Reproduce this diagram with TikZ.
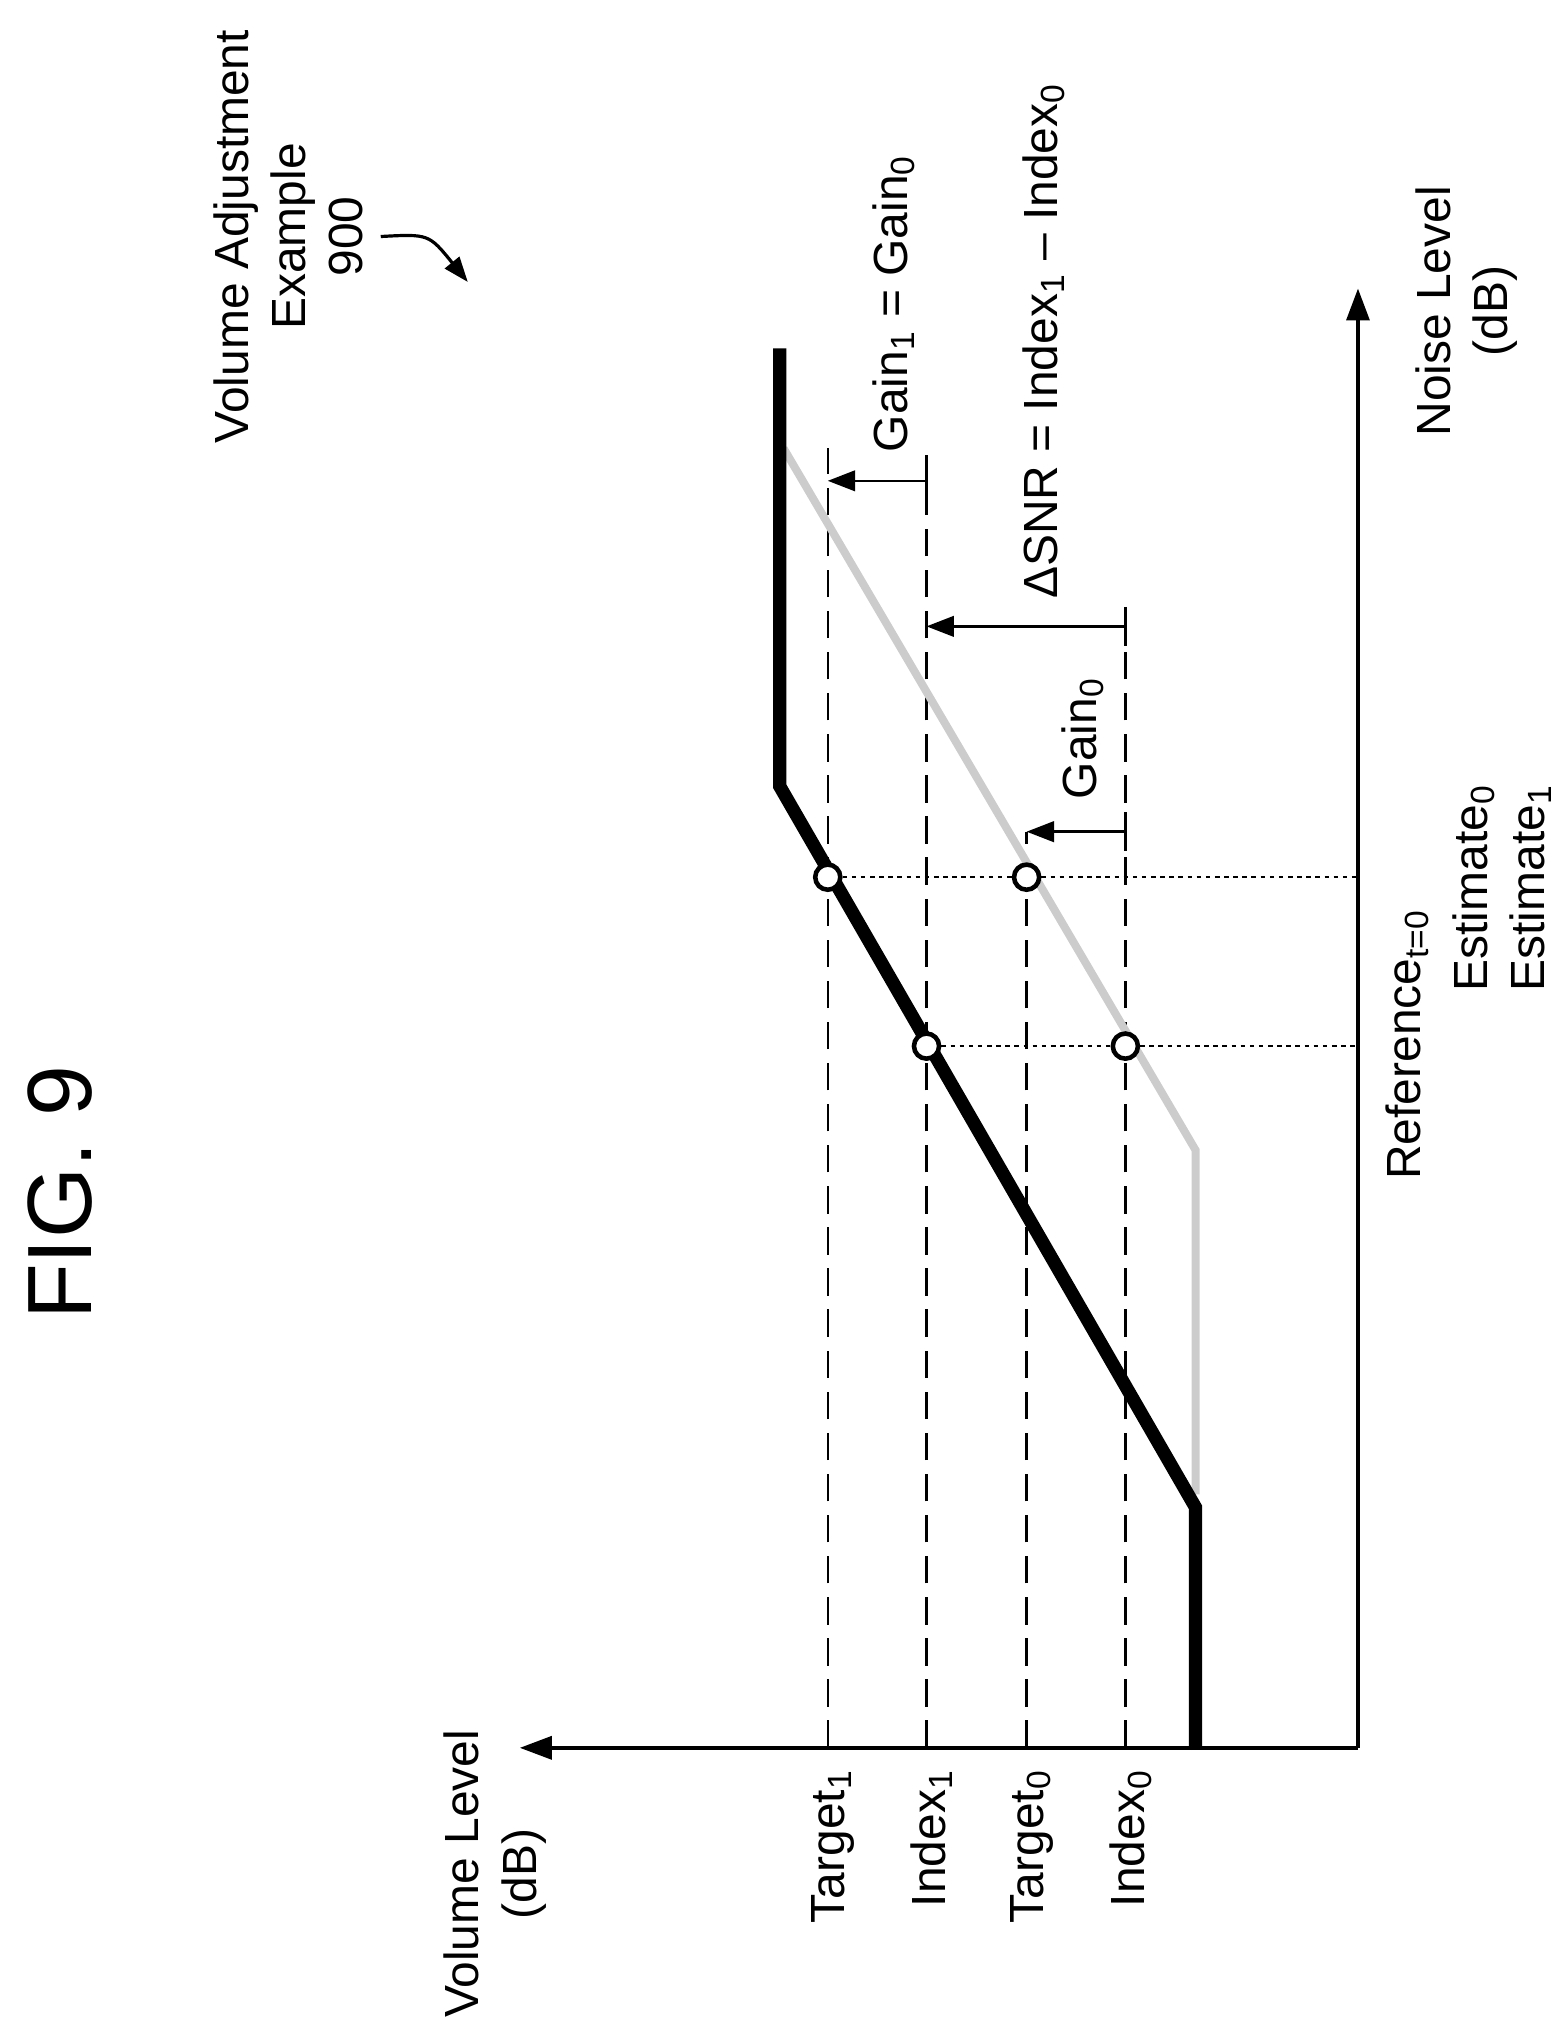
\documentclass[tikz,border=0pt]{standalone}
\usepackage{fontspec}
\setmainfont{Liberation Sans}
\usetikzlibrary{arrows.meta}
\newcommand{\sbs}[1]{\textsubscript{#1}}
\begin{document}
\begin{tikzpicture}[x=0.02cm,y=-0.02cm,
  lbl/.style={rotate=90,font=\fontsize{21}{25}\selectfont,inner sep=1pt},
  axis/.style={line width=1.7pt,-{Triangle[length=14pt,width=10pt]}},
  dsh/.style={line width=1.1pt,dash pattern=on 12pt off 6pt},
  dot/.style={line width=1.1pt,dash pattern=on 2pt off 2pt},
  circ/.style={circle,draw,line width=2pt,fill=white,minimum size=11pt,inner sep=0pt},
  brk/.style={line width=1.1pt,-{Triangle[length=12pt,width=9pt]}}]
\useasboundingbox (0,0) rectangle (1200,1566);
% axes
\coordinate (O) at (1045,1345);
\coordinate (vx) at (400,1345);
\coordinate (ny) at (1045,222);
\draw[axis] (O) -- (vx);
\draw[axis] (O) -- (ny);
% dashed levels
\coordinate (t1a) at (637,1345); \coordinate (t1b) at (637,345);
\coordinate (i1a) at (713,1345); \coordinate (i1b) at (713,350);
\coordinate (t0a) at (790,1345); \coordinate (t0b) at (790,640);
\coordinate (i0a) at (866,1345); \coordinate (i0b) at (866,470);
\draw[dsh] (t1a) -- (t1b); \draw[dsh] (i1a) -- (i1b);
\draw[dsh] (t0a) -- (t0b); \draw[dsh] (i0a) -- (i0b);
% gray curve
\draw[gray!40,line width=3.5pt] (920,1150) -- (920,885) -- (603,345);
% thick curve
\draw[line width=5.8pt] (920,1345) -- (920,1160) -- (600,605) -- (600,268);
% circles and dotted verticals
\node[circ] (c1) at (637,675) {};
\node[circ] (c2) at (790,675) {};
\node[circ] (c3) at (713,805) {};
\node[circ] (c4) at (866,805) {};
\coordinate (e1) at (1045,675);
\coordinate (e2) at (1045,805);
\draw[dot] (c1) -- (c2) -- (e1);
\draw[dot] (c3) -- (c4) -- (e2);
% brackets
\coordinate (g1s) at (713,370); \coordinate (g1e) at (637,370);
\draw[line width=1.1pt] (713,355) -- (713,385);
\draw[brk] (g1s) -- (g1e);
\coordinate (ss) at (866,482); \coordinate (se) at (713,482);
\draw[line width=1.1pt] (866,467) -- (866,497);
\draw[brk] (ss) -- (se);
\coordinate (gs) at (866,640); \coordinate (ge) at (790,640);
\draw[line width=1.1pt] (866,625) -- (866,655);
\draw[brk] (gs) -- (ge);
% labels
\node[lbl,anchor=west] (lg1) at (688,350) {Gain\sbs{1} = Gain\sbs{0}};
\node[lbl,anchor=west] (lsnr) at (803,463) {ΔSNR = Index\sbs{1} – Index\sbs{0}};
\node[lbl,anchor=west] (lg0) at (833,617) {Gain\sbs{0}};
\node[lbl,anchor=east] (lT1) at (641,1360) {Target\sbs{1}};
\node[lbl,anchor=east] (lI1) at (717,1360) {Index\sbs{1}};
\node[lbl,anchor=east] (lT0) at (794,1360) {Target\sbs{0}};
\node[lbl,anchor=east] (lI0) at (870,1360) {Index\sbs{0}};
\node[lbl,align=center] (lvol) at (381,1442) {Volume Level\\(dB)};
\node[lbl,align=center,anchor=south west] (lnoise) at (1170,338) {Noise Level\\(dB)};
\node[lbl,anchor=west] (lref) at (1083,910) {Reference\sbs{t=0}};
\node[lbl,align=center,anchor=south west] (lest) at (1196,765) {Estimate\sbs{0}\\Estimate\sbs{1}};
\node[rotate=90,font=\fontsize{40}{42}\selectfont] (fig) at (46,918) {FIG. 9};
\node[lbl,align=center] (lex) at (222,182) {Volume Adjustment\\Example\\900};
\coordinate (a1) at (293,182); \coordinate (a2) at (360,217);
\draw[line width=1.4pt,-{Triangle[length=11pt,width=8pt]}] (a1) .. controls (330,180) .. (a2);
\end{tikzpicture}
\end{document}
